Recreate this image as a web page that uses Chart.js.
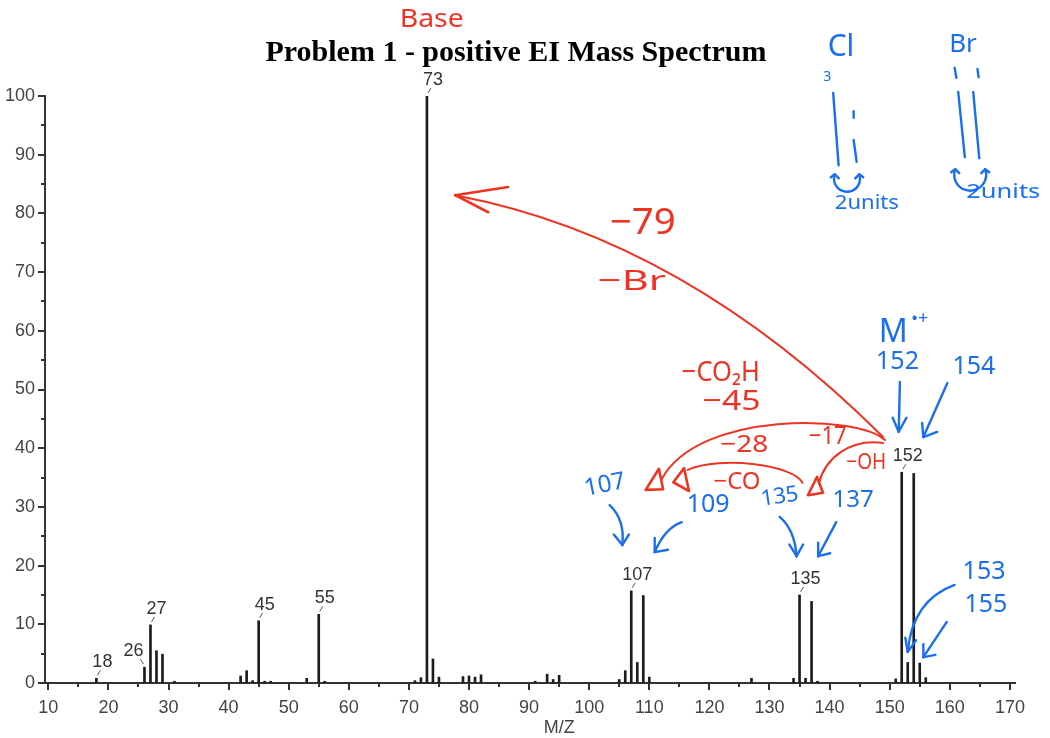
<!DOCTYPE html>
<html>
<head>
<meta charset="utf-8">
<script src="https://cdn.jsdelivr.net/npm/chart.js@4/dist/chart.umd.min.js"></script>
<style>
  html, body { margin: 0; padding: 0; background: #fff; }
  #wrap { width: 1050px; height: 738px; }
</style>
</head>
<body>
<div id="wrap"><canvas id="spectrum" width="1050" height="738"></canvas></div>
<script>
// EI mass spectrum: m/z values and relative intensities (%)
const mzValues = [18, 26, 27, 28, 29, 31, 42, 43, 44, 45, 46, 47, 53, 55, 56,
  71, 72, 73, 74, 75, 79, 80, 81, 82, 91, 93, 94, 95,
  105, 106, 107, 108, 109, 110, 127, 134, 135, 136, 137, 138,
  151, 152, 153, 154, 155, 156];
const intensities = [0.8, 2.7, 9.9, 5.5, 4.9, 0.3, 1.2, 2.1, 0.4, 10.6, 0.3, 0.3, 0.8, 11.7, 0.3,
  0.4, 0.9, 100, 4.1, 1.0, 1.1, 1.2, 1.0, 1.4, 0.3, 1.5, 0.6, 1.3,
  0.6, 2.1, 15.7, 3.5, 14.9, 1.0, 0.8, 0.8, 15.0, 0.8, 13.9, 0.3,
  0.7, 35.9, 3.5, 35.7, 3.4, 0.9];
const labelledPeaks = [18, 26, 27, 45, 55, 73, 107, 135, 152];
const xTickValues = [10, 20, 30, 40, 50, 60, 70, 80, 90, 100, 110, 120, 130, 140, 150, 160, 170];
const yTickValues = [0, 10, 20, 30, 40, 50, 60, 70, 80, 90, 100];
const chartTitle = 'Problem 1 - positive EI Mass Spectrum';
const xAxisTitle = 'M/Z';

// Hand-written notes, placed in (m/z, intensity) coordinates
const RED = '#ee3322';
const BLUE = '#1a6ff0';
const inkFont = '"Noto Sans", sans-serif';

const redNotes = [
  { text: 'Base', at: [73.8, 113.0], size: 26, w: 64 },
  { text: '−79', at: [108.9, 78.3], size: 36, w: 66 },
  { text: '−Br', at: [107.1, 68.3], size: 28, w: 68 },
  { text: '−CO₂H', at: [121.9, 52.8], size: 28, w: 78 },
  { text: '−45', at: [123.7, 47.9], size: 28, w: 58 },
  { text: '−28', at: [125.8, 40.6], size: 24, w: 48 },
  { text: '−CO', at: [124.6, 34.3], size: 24, w: 47 },
  { text: '−17', at: [139.7, 42.0], size: 25, w: 38 },
  { text: '−OH', at: [146.1, 37.6], size: 22, w: 40 }
];
const redCurves = [
  [[148.9, 41.9], [115.9, 75.6], [78.1, 83.0]],
  [[149.2, 41.4], [144.8, 45.7], [118.4, 46.5], [112.1, 34.8]],
  [[135.5, 34.1], [134.2, 37.1], [121.8, 38.8], [116.4, 36.3]],
  [[148.9, 40.9], [143.4, 41.7], [139.3, 38.3], [138.2, 34.0]]
];
const redOpenHeads = [
  { tip: [77.7, 83.1], barbs: [[86.5, 84.5], [83.2, 80.2]] }
];
const redTriangles = [
  [[109.4, 32.9], [111.6, 36.5], [112.3, 33.0]],
  [[114.0, 34.2], [115.8, 36.6], [116.6, 32.7]],
  [[136.4, 32.0], [137.9, 35.1], [138.9, 32.4]]
];

const blueNotes = [
  { text: 'M', at: [150.6, 59.6], size: 32 },
  { text: '•+', at: [155.0, 62.0], size: 18 },
  { text: '152', at: [151.3, 54.7], size: 25 },
  { text: '154', at: [164.0, 53.8], size: 25 },
  { text: '107', at: [102.6, 33.7], size: 24, rot: -0.2 },
  { text: '109', at: [119.8, 30.3], size: 25 },
  { text: '135', at: [131.7, 31.7], size: 22, rot: -0.15 },
  { text: '137', at: [143.9, 31.2], size: 24 },
  { text: '153', at: [165.7, 18.9], size: 25 },
  { text: '155', at: [166.0, 13.3], size: 25 },
  { text: 'Cl', at: [141.9, 108.2], size: 30 },
  { text: '3', at: [139.6, 103.2], size: 14 },
  { text: 'Br', at: [162.2, 108.7], size: 26 },
  { text: '2units', at: [146.2, 81.8], size: 20, w: 64 },
  { text: '2units', at: [168.9, 83.6], size: 20, w: 74 }
];
const blueArrows = [
  { path: [[151.7, 51.3], [151.5, 42.8]], barbs: [[150.5, 45.2], [152.8, 45.2]] },
  { path: [[159.6, 51.1], [155.6, 41.9]], barbs: [[155.4, 44.3], [157.9, 42.8]] },
  { path: [[103.4, 30.3], [106.0, 27.8], [105.5, 23.5]], barbs: [[104.1, 25.3], [106.6, 25.3]] },
  { path: [[115.4, 27.4], [112.6, 26.4], [110.9, 22.3]], barbs: [[110.9, 24.7], [113.1, 22.7]] },
  { path: [[131.7, 28.3], [134.2, 26.1], [134.5, 21.6]], barbs: [[133.3, 23.6], [135.6, 23.6]] },
  { path: [[141.1, 27.4], [138.1, 21.6]], barbs: [[138.1, 23.9], [140.1, 22.1]] },
  { path: [[160.8, 16.7], [153.8, 14.1], [153.0, 5.3]], barbs: [[152.6, 7.7], [154.4, 7.3]] },
  { path: [[159.5, 10.4], [155.6, 4.4]], barbs: [[155.6, 6.6], [157.6, 4.8]] }
];
// isotope sketches: vertical strokes
const blueStrokes = [
  [[140.6, 100.5], [141.5, 88.2]],
  [[144.0, 97.4], [144.0, 96.3]],
  [[144.0, 92.5], [144.5, 88.8]],
  [[160.8, 104.8], [161.1, 103.1]],
  [[164.6, 104.6], [164.8, 103.2]],
  [[161.4, 100.7], [162.5, 89.6]],
  [[163.9, 100.7], [164.9, 89.4]]
];
const blueCurls = [
  { center: [142.9, 85.9], r: 13 },
  { center: [163.4, 86.6], r: 16 }
];

function drawInk(chart) {
  const { ctx, scales } = chart;
  const xs = scales.x, ys = scales.y;
  const P = ([m, v]) => [xs.getPixelForValue(m), ys.getPixelForValue(v)];
  ctx.save();
  ctx.lineCap = 'round';
  ctx.lineJoin = 'round';

  const path = (pts) => {
    const p = pts.map(P);
    ctx.beginPath();
    ctx.moveTo(p[0][0], p[0][1]);
    if (p.length === 2) ctx.lineTo(p[1][0], p[1][1]);
    else if (p.length === 3) ctx.quadraticCurveTo(p[1][0], p[1][1], p[2][0], p[2][1]);
    else ctx.bezierCurveTo(p[1][0], p[1][1], p[2][0], p[2][1], p[3][0], p[3][1]);
    ctx.stroke();
  };
  const text = (n, color) => {
    const [x, y] = P(n.at);
    ctx.save();
    ctx.translate(x, y);
    if (n.rot) ctx.rotate(n.rot);
    ctx.fillStyle = color;
    ctx.font = `${n.size}px ${inkFont}`;
    if (n.w) ctx.scale(n.w / ctx.measureText(n.text).width, 1);
    ctx.textAlign = 'center';
    ctx.textBaseline = 'middle';
    ctx.fillText(n.text, 0, 0);
    ctx.restore();
  };

  // red fragment-loss notes
  ctx.strokeStyle = RED;
  ctx.lineWidth = 2;
  redCurves.forEach(path);
  ctx.lineWidth = 2.6;
  redOpenHeads.forEach(h => h.barbs.forEach(b => path([h.tip, b])));
  redTriangles.forEach(t => {
    const p = t.map(P);
    ctx.beginPath();
    ctx.moveTo(p[0][0], p[0][1]);
    ctx.lineTo(p[1][0], p[1][1]);
    ctx.lineTo(p[2][0], p[2][1]);
    ctx.closePath();
    ctx.stroke();
  });
  redNotes.forEach(n => text(n, RED));

  // blue peak notes
  ctx.strokeStyle = BLUE;
  ctx.lineWidth = 2.4;
  blueArrows.forEach(a => {
    path(a.path);
    const tip = a.path[a.path.length - 1];
    a.barbs.forEach(b => path([tip, b]));
  });
  blueStrokes.forEach(path);
  blueCurls.forEach(c => {
    const [cx, cy] = P(c.center);
    const r = c.r;
    ctx.beginPath();
    ctx.arc(cx, cy, r, Math.PI + 0.35, -0.35, true);
    ctx.stroke();
    const lx = cx + r * Math.cos(Math.PI + 0.35), ly = cy + r * Math.sin(Math.PI + 0.35);
    const rx = cx + r * Math.cos(-0.35), ry = cy + r * Math.sin(-0.35);
    ctx.beginPath();
    ctx.moveTo(lx - 4, ly + 3); ctx.lineTo(lx, ly); ctx.lineTo(lx + 4, ly + 4);
    ctx.moveTo(rx - 4, ry + 4); ctx.lineTo(rx, ry); ctx.lineTo(rx + 4, ry + 3);
    ctx.stroke();
  });
  blueNotes.forEach(n => text(n, BLUE));
  ctx.restore();
}

const spectrumDecor = {
  id: 'spectrumDecor',
  afterDatasetsDraw(chart) {
    const { ctx, scales, chartArea } = chart;
    const xs = scales.x, ys = scales.y;
    ctx.save();
    ctx.strokeStyle = '#333';
    ctx.lineWidth = 2;
    // tick marks, majors every 10 and minors every 5
    for (let v = 10; v <= 170; v += 5) {
      const x = Math.round(xs.getPixelForValue(v));
      const len = v % 10 === 0 ? 7 : 4;
      ctx.beginPath();
      ctx.moveTo(x, chartArea.bottom);
      ctx.lineTo(x, chartArea.bottom + len);
      ctx.stroke();
    }
    for (let v = 0; v <= 100; v += 5) {
      const y = Math.round(ys.getPixelForValue(v));
      const len = v % 10 === 0 ? 7 : 4;
      ctx.beginPath();
      ctx.moveTo(chartArea.left, y);
      ctx.lineTo(chartArea.left - len, y);
      ctx.stroke();
    }

    // peak labels with a short leader mark
    ctx.font = '18px "Liberation Sans", sans-serif';
    ctx.fillStyle = '#333';
    ctx.textBaseline = 'alphabetic';
    ctx.lineWidth = 1;
    ctx.strokeStyle = '#555';
    const boxes = labelledPeaks.map(m => {
      const i = mzValues.indexOf(m);
      const x = xs.getPixelForValue(m);
      const top = ys.getPixelForValue(intensities[i]);
      const w = ctx.measureText(String(m)).width;
      return { m, x, top, w, left: x + 6 - w / 2, right: x + 6 + w / 2 };
    });
    boxes.forEach((b, k) => {
      const next = boxes[k + 1];
      const crowded = next && b.right > next.left - 2 && Math.abs(b.top - next.top) < 80;
      const dir = crowded ? -1 : 1;
      ctx.textAlign = 'center';
      const cx = crowded ? b.x - 1 - b.w / 2 : b.x + 6;
      ctx.fillText(String(b.m), cx, b.top - 11);
      ctx.beginPath();
      ctx.moveTo(b.x + dir, b.top - 3);
      ctx.lineTo(b.x + dir * 4, b.top - 8);
      ctx.stroke();
    });

    // title and axis title
    ctx.fillStyle = '#000';
    ctx.textAlign = 'center';
    ctx.textBaseline = 'middle';
    ctx.font = 'bold 30px "Liberation Serif", serif';
    ctx.fillText(chartTitle, 516, 53);
    ctx.fillStyle = '#444';
    ctx.font = '18px "Liberation Sans", sans-serif';
    ctx.fillText(xAxisTitle, xs.getPixelForValue(95), 728);
    ctx.restore();
  },
  afterDraw(chart) {
    drawInk(chart);
  }
};

const tickFont = { family: '"Liberation Sans", sans-serif', size: 18 };

new Chart(document.getElementById('spectrum'), {
  type: 'bar',
  data: {
    datasets: [{
      data: mzValues.map((m, i) => ({ x: m, y: intensities[i] })),
      backgroundColor: '#1c1c1c',
      barThickness: 2,
      borderWidth: 0
    }]
  },
  options: {
    responsive: false,
    animation: false,
    devicePixelRatio: 1,
    layout: { padding: { top: 96, right: 35, left: 0, bottom: 0 } },
    plugins: { legend: { display: false }, tooltip: { enabled: false } },
    scales: {
      x: {
        type: 'linear',
        min: 9.45,
        max: 170.85,
        offset: false,
        grid: { display: false },
        border: { color: '#333', width: 2 },
        ticks: { font: tickFont, color: '#444', padding: 6, maxRotation: 0, autoSkip: false },
        afterBuildTicks: s => { s.ticks = xTickValues.map(v => ({ value: v })); },
        afterFit: s => { s.height = 55; }
      },
      y: {
        min: 0,
        max: 100,
        grid: { display: false },
        border: { color: '#333', width: 2 },
        ticks: { font: tickFont, color: '#444', padding: 2 },
        afterBuildTicks: s => { s.ticks = yTickValues.map(v => ({ value: v })); },
        afterFit: s => { s.width = 45; }
      }
    }
  },
  plugins: [spectrumDecor]
});
</script>
</body>
</html>
